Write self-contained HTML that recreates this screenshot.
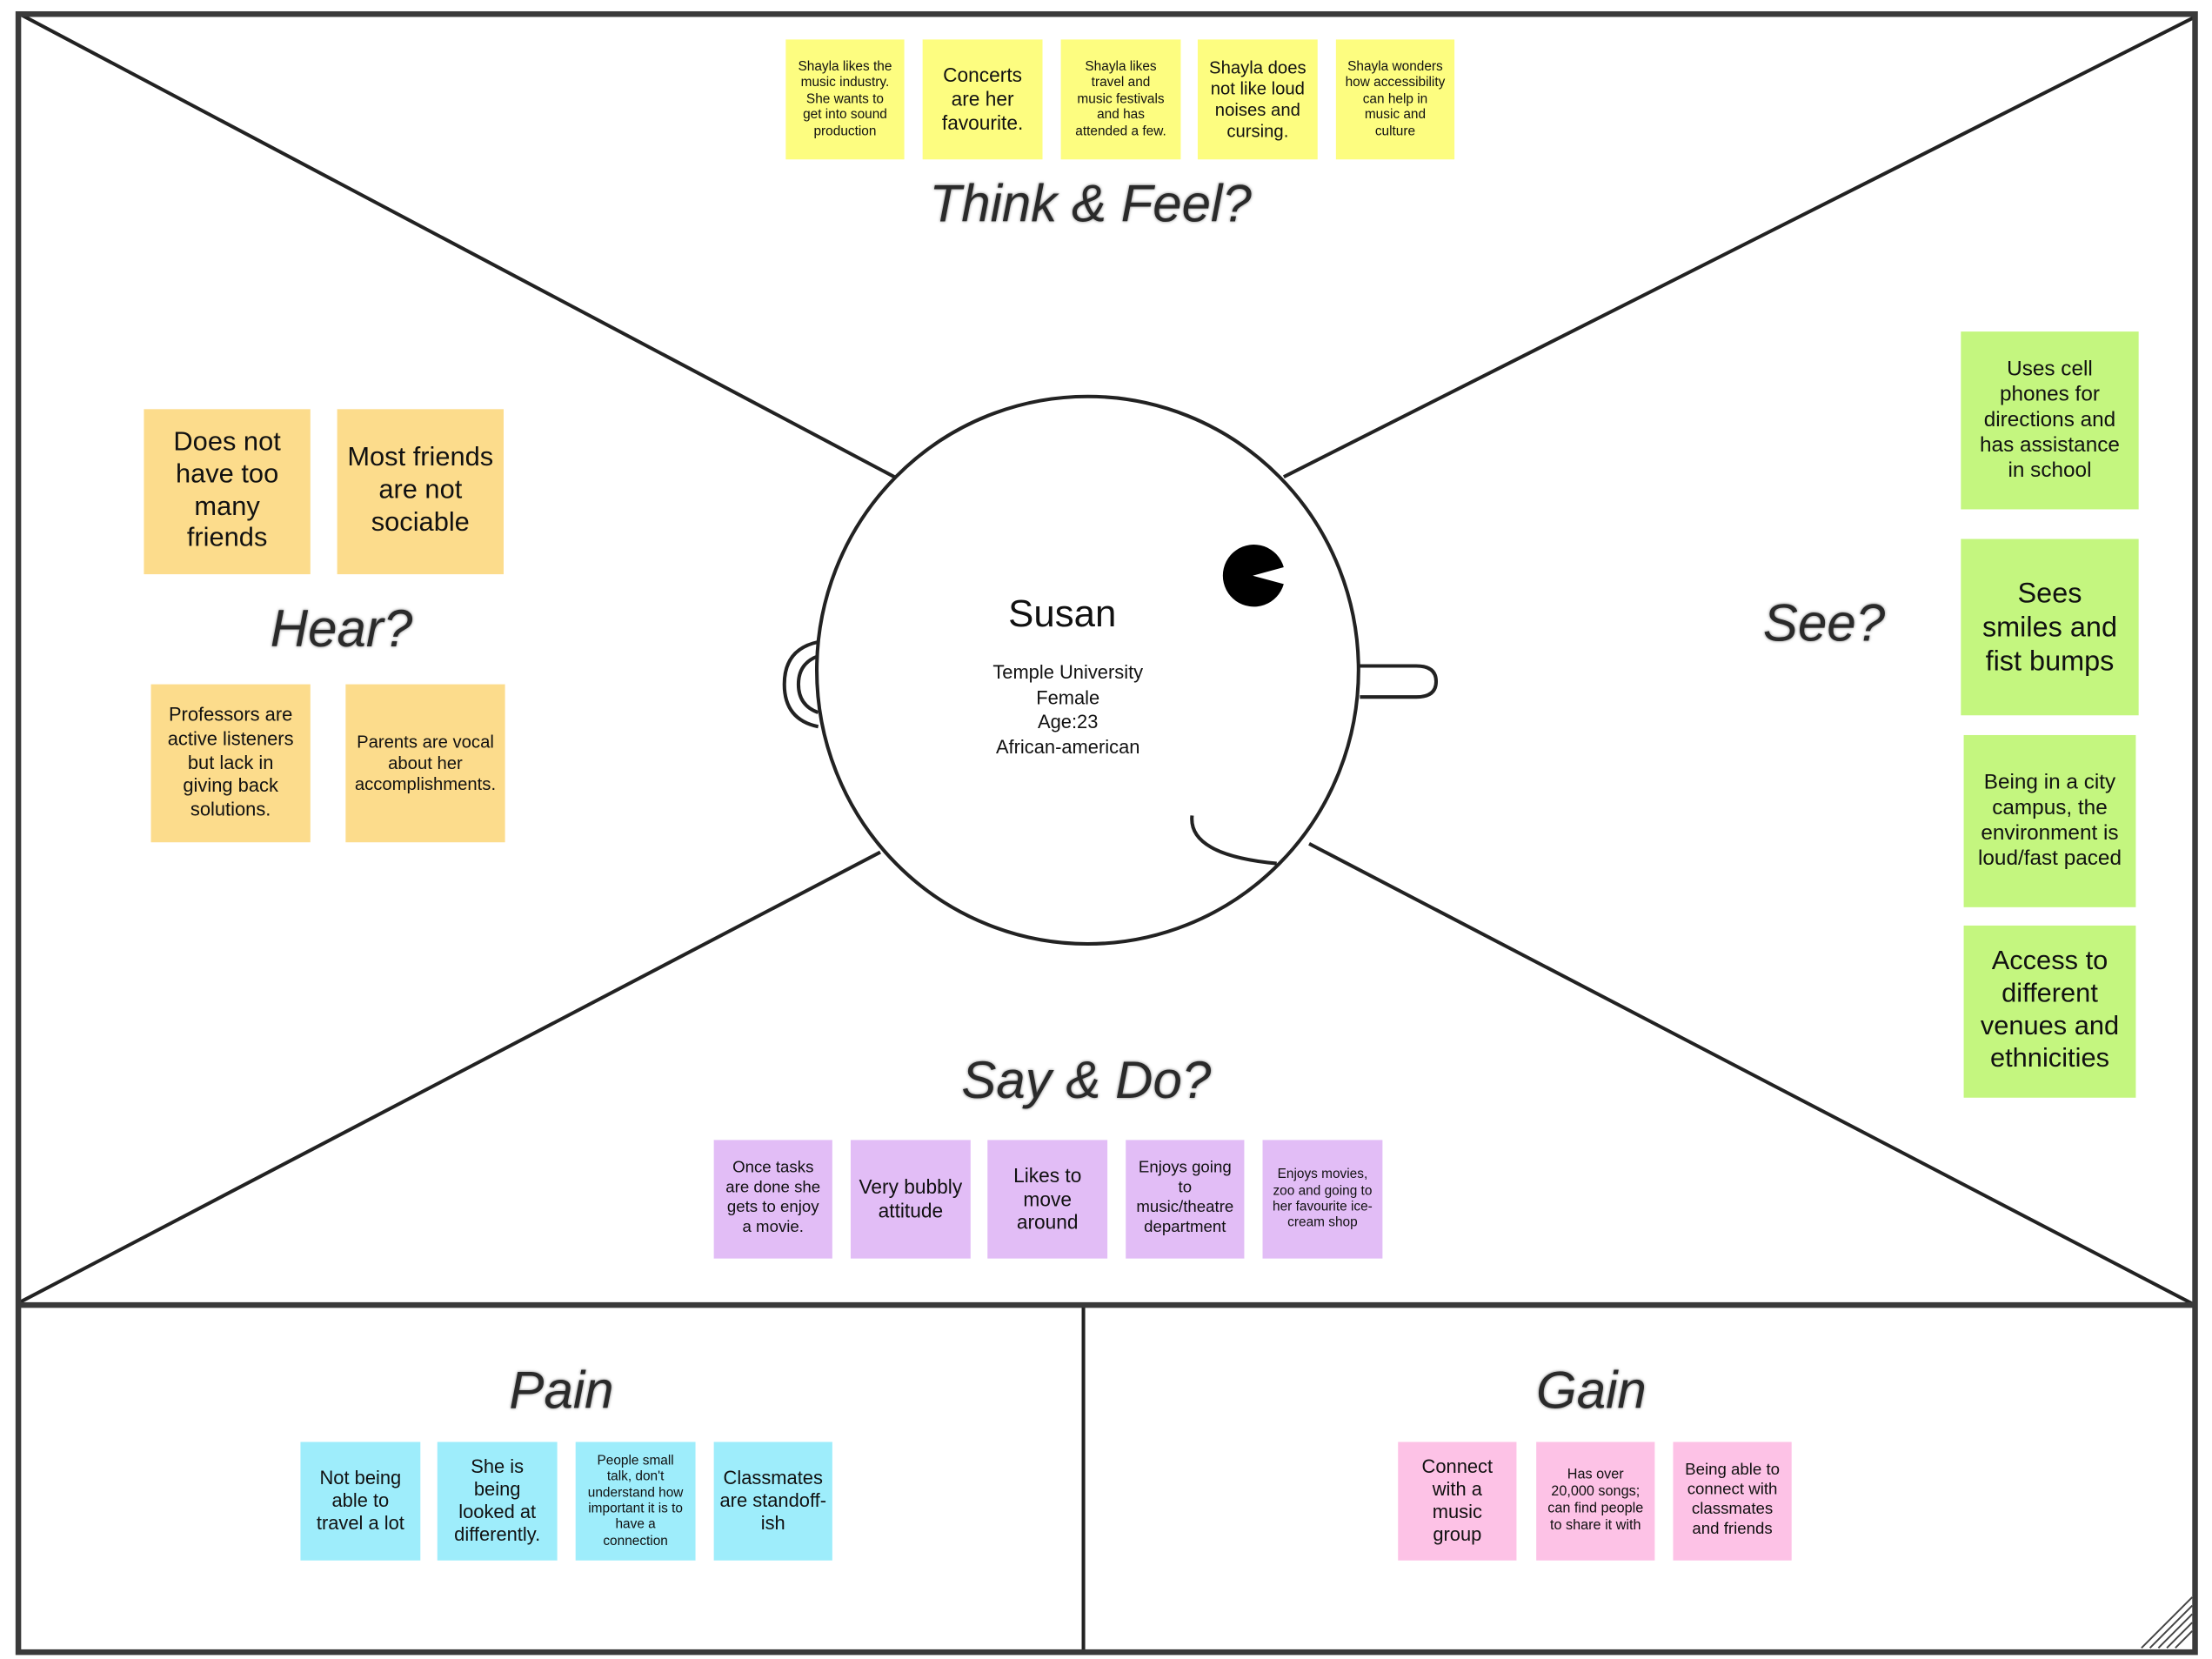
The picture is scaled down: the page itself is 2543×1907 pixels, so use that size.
<!DOCTYPE html>
<html><head><meta charset="utf-8">
<style>
html,body{margin:0;padding:0;background:#fff;overflow:hidden;}
#wrap{position:absolute;left:0;top:0;width:1568px;height:1176px;transform:scale(1.62181);transform-origin:0 0;font-family:"Liberation Sans",sans-serif;color:#111;}
.s{position:absolute;display:flex;align-items:center;justify-content:center;text-align:center;box-sizing:border-box;padding:3px;line-height:1.2;}
.y{background:#fdfd80;}
.o{background:#fcdc8c;}
.g{background:#c4f67f;}
.p{background:#e2bdf6;}
.b{background:#9eedfb;}
.k{background:#fdc2e6;}
.h{position:absolute;font-style:italic;font-size:37px;color:#2a2a2a;transform:translateX(-50%);white-space:nowrap;text-shadow:0 0 2px #777;}
.c{position:absolute;text-align:center;transform:translateX(-50%);white-space:nowrap;}
</style></head><body>
<div id="wrap">
<svg width="1568" height="1176" style="position:absolute;left:0;top:0">
<g fill="none" stroke="#222" stroke-width="2.5">
<line x1="14" y1="10" x2="634" y2="338"/>
<line x1="1556" y1="12" x2="910" y2="338"/>
<line x1="14" y1="923" x2="624" y2="604"/>
<line x1="1556" y1="925" x2="928" y2="598"/>
<line x1="768" y1="926" x2="768" y2="1170"/>
</g>
<rect x="13" y="10" width="1543" height="1161" fill="none" stroke="#3a3a3a" stroke-width="4"/>
<line x1="13" y1="925" x2="1556" y2="925" stroke="#3a3a3a" stroke-width="4"/>
<path d="M580 455 Q556 460 556 485 Q556 510 580 515" fill="none" stroke="#222" stroke-width="2.5"/>
<path d="M580 465 Q566 470 566 485 Q566 500 580 505" fill="none" stroke="#222" stroke-width="2.5"/>
<path d="M964 472 L1004 472 Q1018 472 1018 483 Q1018 494 1004 494 L964 494" fill="none" stroke="#222" stroke-width="2.5"/>
<ellipse cx="771" cy="475" rx="192" ry="194" fill="#fff" stroke="#222" stroke-width="2.5"/>
<path d="M888 408 L910 402 A22 22 0 1 0 910 414 Z" fill="#000"/>
<path d="M845 578 Q842 606 905 612" fill="none" stroke="#222" stroke-width="2.5"/>
<g stroke="#444" stroke-width="1.2">
<line x1="1518" y1="1168" x2="1554" y2="1132"/>
<line x1="1524" y1="1168" x2="1554" y2="1138"/>
<line x1="1530" y1="1168" x2="1554" y2="1144"/>
<line x1="1536" y1="1168" x2="1554" y2="1150"/>
<line x1="1542" y1="1168" x2="1554" y2="1156"/>
</g>
</svg>

<div class="c" style="left:753px;top:420px;font-size:27px;">Susan</div>
<div class="c" style="left:757px;top:468px;font-size:13.5px;line-height:17.5px;">Temple University<br>Female<br>Age:23<br>African-american</div>

<div class="s y" style="left:557px;top:28px;width:84px;height:85px;font-size:9.5px;padding:3px 7px;">Shayla likes the music industry. She wants to get into sound production</div>
<div class="s y" style="left:654px;top:28px;width:85px;height:85px;font-size:14px;">Concerts are her favourite.</div>
<div class="s y" style="left:752px;top:28px;width:85px;height:85px;font-size:9.5px;padding:3px 8px;">Shayla likes travel and music festivals and has attended a few.</div>
<div class="s y" style="left:849px;top:28px;width:85px;height:85px;font-size:12.5px;">Shayla does not like loud noises and cursing.</div>
<div class="s y" style="left:947px;top:28px;width:84px;height:85px;font-size:9.5px;padding:3px 6px;">Shayla wonders how accessibility can help in music and culture</div>
<div class="h" style="left:773px;top:124px;">Think &amp; Feel?</div>

<div class="s o" style="left:102px;top:290px;width:118px;height:117px;font-size:19px;padding:3px 14px;">Does not have too many friends</div>
<div class="s o" style="left:239px;top:290px;width:118px;height:117px;font-size:19px;">Most friends are not sociable</div>
<div class="h" style="left:242px;top:425px;">Hear?</div>
<div class="s o" style="left:107px;top:485px;width:113px;height:112px;font-size:13.5px;line-height:1.25;padding:3px 9px;">Professors are active listeners but lack in giving back solutions.</div>
<div class="s o" style="left:245px;top:485px;width:113px;height:112px;font-size:12.5px;">Parents are vocal about her accomplishments.</div>

<div class="h" style="left:1293px;top:421px;">See?</div>
<div class="s g" style="left:1390px;top:235px;width:126px;height:126px;font-size:15px;padding:3px 10px;">Uses cell phones for directions and has assistance in school</div>
<div class="s g" style="left:1390px;top:382px;width:126px;height:125px;font-size:20px;padding:3px 10px;">Sees smiles and fist bumps</div>
<div class="s g" style="left:1392px;top:521px;width:122px;height:122px;font-size:15px;">Being in a city campus, the environment is loud/fast paced</div>
<div class="s g" style="left:1392px;top:656px;width:122px;height:122px;font-size:19px;">Access to different venues and ethnicities</div>

<div class="h" style="left:770px;top:745px;">Say &amp; Do?</div>
<div class="s p" style="left:506px;top:808px;width:84px;height:84px;font-size:11.5px;padding:3px 6px;">Once tasks are done she gets to enjoy a movie.</div>
<div class="s p" style="left:603px;top:808px;width:85px;height:84px;font-size:14px;">Very bubbly attitude</div>
<div class="s p" style="left:700px;top:808px;width:85px;height:84px;font-size:14px;padding:3px 12px;">Likes to move around</div>
<div class="s p" style="left:798px;top:808px;width:84px;height:84px;font-size:11.5px;">Enjoys going to music/theatre department</div>
<div class="s p" style="left:895px;top:808px;width:85px;height:84px;font-size:9.5px;padding:3px 5px;">Enjoys movies, zoo and going to her favourite ice-cream shop</div>

<div class="h" style="left:398px;top:965px;">Pain</div>
<div class="s b" style="left:213px;top:1022px;width:85px;height:84px;font-size:13.5px;padding:3px 10px;">Not being able to travel a lot</div>
<div class="s b" style="left:310px;top:1022px;width:85px;height:84px;font-size:13.5px;padding:3px 10px;">She is being looked at differently.</div>
<div class="s b" style="left:408px;top:1022px;width:85px;height:84px;font-size:9.5px;padding:3px 8px;">People small talk, don't understand how important it is to have a connection</div>
<div class="s b" style="left:506px;top:1022px;width:84px;height:84px;font-size:13.5px;">Classmates are standoff-ish</div>

<div class="h" style="left:1128px;top:965px;">Gain</div>
<div class="s k" style="left:991px;top:1022px;width:84px;height:84px;font-size:13.5px;padding:3px 12px;">Connect with a music group</div>
<div class="s k" style="left:1089px;top:1022px;width:84px;height:84px;font-size:10px;padding:3px 8px;">Has over 20,000 songs; can find people to share it with</div>
<div class="s k" style="left:1186px;top:1022px;width:84px;height:84px;font-size:11.5px;padding:3px 6px;">Being able to connect with classmates and friends</div>
</div>
</body></html>
